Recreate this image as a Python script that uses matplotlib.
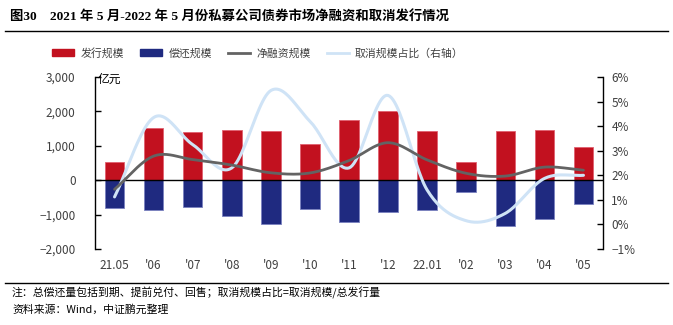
import matplotlib
matplotlib.use("Agg")
import matplotlib.pyplot as plt
from matplotlib.patches import Patch
from matplotlib.lines import Line2D
import numpy as np

plt.rcParams['font.family'] = ['Noto Sans CJK SC', 'DejaVu Sans']
plt.rcParams['axes.unicode_minus'] = False

# data
months = ['21.05', "'06", "'07", "'08", "'09", "'10", "'11", "'12", '22.01', "'02", "'03", "'04", "'05"]
issue = [530, 1520, 1400, 1465, 1430, 1045, 1760, 2020, 1430, 528, 1437, 1470, 977]      # 发行规模
repay = [-800, -879, -781, -1035, -1260, -840, -1201, -937, -875, -352, -1324, -1125, -704]  # 偿还规模
net = [-265, 700, 600, 440, 215, 210, 570, 1090, 590, 200, 120, 380, 290]                 # 净融资规模
cancel_pct = [1.12, 4.35, 3.25, 2.3, 5.45, 4.2, 2.3, 5.25, 1.4, 0.15, 0.45, 1.87, 2.0]     # 取消规模占比 %

RED = '#C2111F'
BLUE = '#1F2A80'
GRAY = '#636363'
LBLUE = '#CFE3F6'
TXT = '#404040'


def smooth(x, y, n=24):
    # catmull-rom through the points, like the office "smoothed line"
    x = np.asarray(x, float)
    y = np.asarray(y, float)
    px = np.concatenate([[2 * x[0] - x[1]], x, [2 * x[-1] - x[-2]]])
    py = np.concatenate([[2 * y[0] - y[1]], y, [2 * y[-1] - y[-2]]])
    xs, ys = [], []
    t = np.linspace(0, 1, n, endpoint=False)
    for i in range(1, len(px) - 2):
        for p, out in ((px, xs), (py, ys)):
            p0, p1, p2, p3 = p[i - 1], p[i], p[i + 1], p[i + 2]
            out.extend(0.5 * ((2 * p1) + (-p0 + p2) * t
                              + (2 * p0 - 5 * p1 + 4 * p2 - p3) * t ** 2
                              + (-p0 + 3 * p1 - 3 * p2 + p3) * t ** 3))
    xs.append(x[-1])
    ys.append(y[-1])
    return np.array(xs), np.array(ys)


fig = plt.figure(figsize=(6.73, 3.25), dpi=100)

fig.text(10 / 673, 1 - 16 / 325, '图30　2021 年 5 月-2022 年 5 月份私募公司债券市场净融资和取消发行情况',
         fontsize=9.6, fontweight='bold', family=['Liberation Serif', 'Noto Sans CJK SC'],
         va='center', ha='left', color='black')
fig.add_artist(Line2D([5 / 673, 668 / 673], [1 - 31 / 325, 1 - 31 / 325], color='black', lw=1.0))
fig.add_artist(Line2D([5 / 673, 668 / 673], [1 - 283 / 325, 1 - 283 / 325], color='black', lw=1.0))
fig.text(12 / 673, 1 - 293 / 325, '注：总偿还量包括到期、提前兑付、回售；取消规模占比=取消规模/总发行量',
         fontsize=7.8, va='center', ha='left', color='black')
fig.text(12 / 673, 1 - 310 / 325, '资料来源：Wind，中证鹏元整理',
         fontsize=7.8, va='center', ha='left', color='black')

ax = fig.add_axes([95 / 673, 1 - 249 / 325, 508 / 673, 172 / 325])
x = np.arange(len(months))
ax.bar(x, issue, width=0.5, color=RED, edgecolor='#E06070', linewidth=0.6, zorder=2)
ax.bar(x, repay, width=0.5, color=BLUE, edgecolor='#7A82C0', linewidth=0.6, zorder=2)
ax.axhline(0, color='black', lw=1.0, zorder=3)

ax.set_xlim(-0.5, len(months) - 0.5)
ax.set_ylim(-2000, 3000)
ax.set_yticks(np.arange(-2000, 3001, 1000))
ax.set_yticklabels([f'{v:,}'.replace('-', '−') for v in range(-2000, 3001, 1000)])
ax.set_xticks(x)
ax.set_xticklabels(months)
ax.tick_params(axis='x', length=0, pad=7, labelsize=8.5, labelcolor=TXT)
ax.tick_params(axis='y', direction='in', length=4, width=1, labelsize=8.5, labelcolor=TXT, pad=14)
for s in ('top', 'bottom', 'right'):
    ax.spines[s].set_visible(False)
ax.spines['left'].set_linewidth(1.0)
ax.text(0.005, 0.985, '亿元', transform=ax.transAxes, fontsize=8.5, ha='left', va='center', color='black')

ax2 = ax.twinx()
rx, ry = smooth(x, cancel_pct)
ax2.plot(rx, ry, color=LBLUE, lw=2.2, zorder=4, solid_capstyle='round')
# net financing drawn in left-axis units but on top of the right-axis line
sx, sy = smooth(x, net)
ax2.plot(sx, sy, color=GRAY, lw=2.0, zorder=5, solid_capstyle='round', transform=ax.transData)
ax2.set_ylim(-1, 6)
ax2.set_yticks(np.arange(-1, 7, 1))
ax2.set_yticklabels([f'{v}%'.replace('-', '−') for v in range(-1, 7)])
ax2.tick_params(axis='y', direction='in', length=4, width=1, labelsize=8.5, labelcolor=TXT, pad=6)
for s in ('top', 'bottom', 'left'):
    ax2.spines[s].set_visible(False)
ax2.spines['right'].set_linewidth(1.0)
ax2.patch.set_visible(False)

handles = [Patch(color=RED), Patch(color=BLUE),
           Line2D([], [], color=GRAY, lw=2.0), Line2D([], [], color=LBLUE, lw=2.0)]
labels = ['发行规模', '偿还规模', '净融资规模', '取消规模占比（右轴）']
fig.legend(handles, labels, ncol=4, loc='center', bbox_to_anchor=(258 / 673, 1 - 53 / 325),
           frameon=False, fontsize=7.8, handlelength=2.0, handleheight=0.55, columnspacing=1.5,
           handletextpad=0.6, labelcolor=TXT)

fig.savefig('out.png', dpi=100)
